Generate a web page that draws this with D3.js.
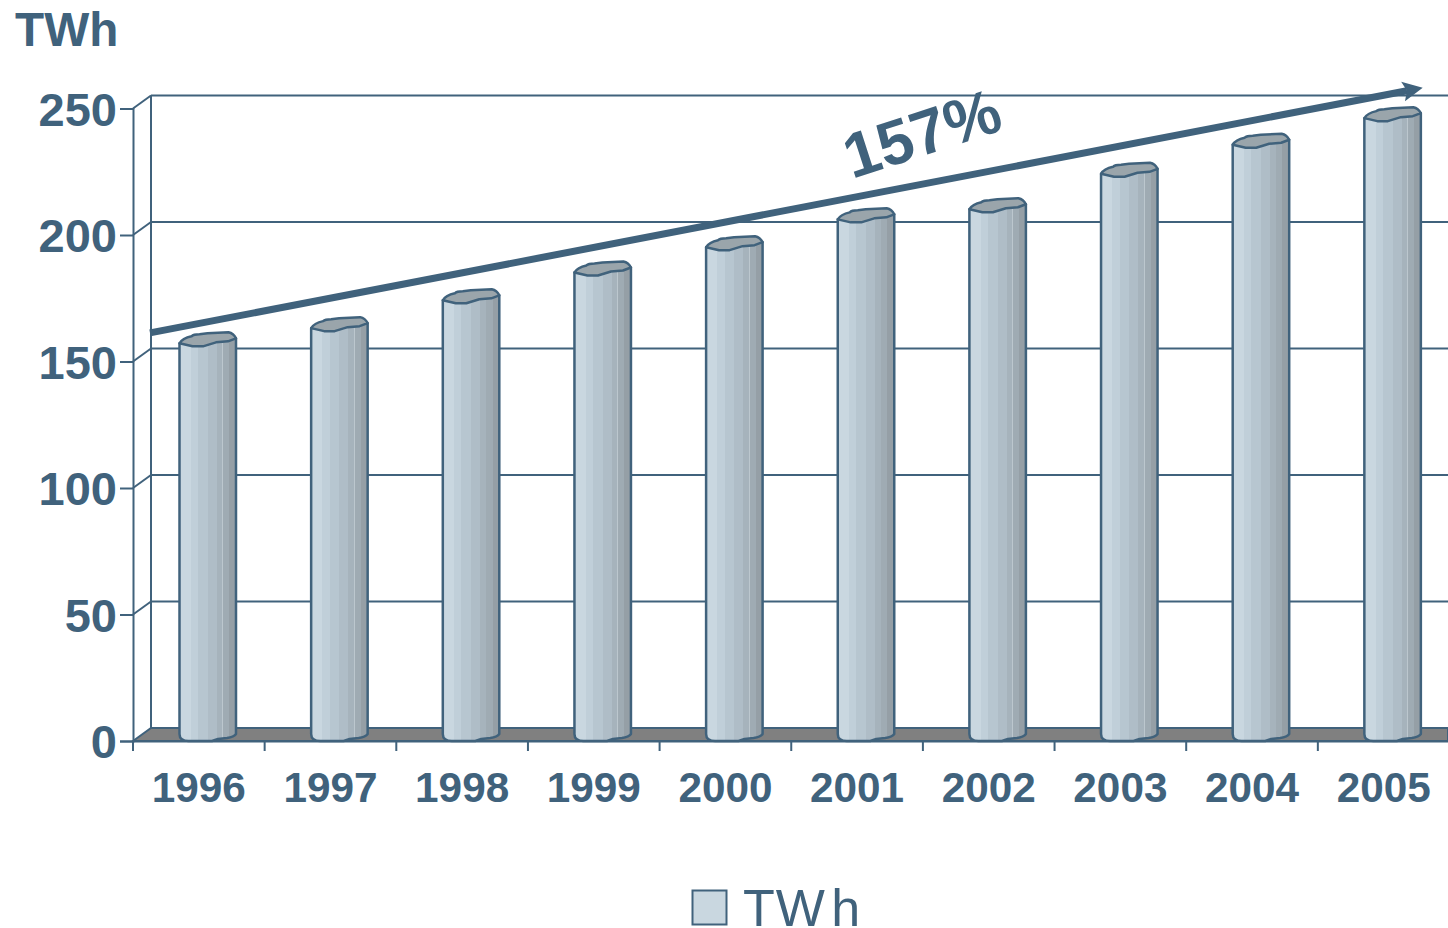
<!DOCTYPE html>
<html><head><meta charset="utf-8">
<script src="https://cdn.jsdelivr.net/npm/d3@7"></script>
<style>
html,body{margin:0;padding:0;background:#fff;overflow:hidden}
svg{display:block}
text{font-family:"Liberation Sans",Arial,sans-serif;fill:#40627c}
</style></head><body>
<svg id="c" width="1448" height="928"></svg>
<script>
const years = ["1996","1997","1998","1999","2000","2001","2002","2003","2004","2005"];
const twh = [156,162,173,184,194,205,209,223,234.5,245];
const yTicks = [0,50,100,150,200,250];
const seriesName = "TWh";
const growthLabel = "157%";
const growthRange = [161.3,257];

const W=1448,H=928, ink="#40627c";
const svg=d3.select("#c");
const x=d3.scaleBand().domain(years).range([133,1448+1.5]).padding(0);
const y=d3.scaleLinear().domain([0,250]).range([741,108.5]);
const dx=18, dy=-13;

const stops=[[0,"#c9d7e0"],[.2,"#c9d7e0"],[.2,"#c0cfd9"],[.33,"#c0cfd9"],[.33,"#b7c6d0"],[.5,"#b7c6d0"],[.5,"#afbdc7"],[.66,"#afbdc7"],[.66,"#a6b3bc"],[.76,"#a6b3bc"],[.76,"#bcc7ce"],[.77,"#bcc7ce"],[.77,"#9fabb3"],[.88,"#9fabb3"],[.88,"#959fa6"],[1,"#959fa6"]];
const g=svg.append("defs").append("linearGradient").attr("id","cyl").attr("x1",0).attr("x2",1).attr("y1",0).attr("y2",0);
g.selectAll("stop").data(stops).join("stop").attr("offset",d=>d[0]).attr("stop-color",d=>d[1]);

svg.append("g").selectAll("line").data(yTicks).join("line")
  .attr("x1",133+dx).attr("x2",W).attr("y1",d=>y(d)+dy).attr("y2",d=>y(d)+dy)
  .attr("stroke",ink).attr("stroke-width",2);
svg.append("line").attr("x1",133+dx).attr("x2",133+dx).attr("y1",y(250)+dy).attr("y2",y(0)+dy).attr("stroke",ink).attr("stroke-width",2);
svg.append("g").selectAll("line").data(yTicks.slice(1)).join("line")
  .attr("x1",133).attr("x2",133+dx).attr("y1",d=>y(d)).attr("y2",d=>y(d)+dy)
  .attr("stroke",ink).attr("stroke-width",2);

svg.append("path").attr("d",`M133,${y(0)}L${133+dx},${y(0)+dy}L${W},${y(0)+dy}L${W},${y(0)}Z`)
  .attr("fill","#808080").attr("stroke",ink).attr("stroke-width",2);

const ya=svg.append("g").attr("transform","translate(133,0)").call(d3.axisLeft(y).tickValues(yTicks).tickSize(13).tickPadding(3));
ya.select(".domain").attr("stroke",ink).attr("stroke-width",2);
ya.selectAll(".tick line").attr("stroke",ink).attr("stroke-width",2);
ya.selectAll(".tick text").attr("font-size",47).attr("font-weight","bold").attr("fill",ink)
  .attr("font-family",'"Liberation Sans",sans-serif').attr("dy","0.36em");

const xa=svg.append("g").attr("transform",`translate(0,${y(0)})`).call(d3.axisBottom(x).tickSize(0).tickPadding(31));
xa.select(".domain").attr("stroke",ink).attr("stroke-width",2);
xa.selectAll(".tick text").attr("font-size",42.3).attr("font-weight","bold").attr("fill",ink)
  .attr("font-family",'"Liberation Sans",sans-serif').attr("dy","0.71em");
svg.append("g").selectAll("line").data(years).join("line")
  .attr("x1",d=>x(d)).attr("x2",d=>x(d)).attr("y1",y(0)).attr("y2",y(0)+10)
  .attr("stroke",ink).attr("stroke-width",2);

const bw=56.5, off=46.5;
const bars=svg.append("g").selectAll("g").data(years.map((k,i)=>({k,v:twh[i]}))).join("g")
  .attr("transform",d=>`translate(${x(d.k)+off},0)`);
const body=d=>{const t=y(d.v),b=y(0);
  return `M0,${t-3}L${bw},${t-8}L${bw},${b-7}Q${bw-2},${b-4} ${bw-9},${b-3}L${bw-18},${b-2}L${bw-24},${b}L9,${b}Q0,${b} 0,${b-7}Z`;};
const cap=d=>{const t=y(d.v);
  return `M0,${t-3}Q3,${t-8} 12,${t-10}Q14,${t-12} 20,${t-12}L28,${t-13}L49,${t-14}Q54,${t-13} ${bw},${t-8}L${bw-8},${t-5}L${bw-20},${t-4}L${bw-33},${t}L13,${t}L0,${t-3}Z`;};
bars.append("path").attr("d",body).attr("fill","url(#cyl)").attr("stroke",ink).attr("stroke-width",2.5).attr("stroke-linejoin","round");
bars.append("path").attr("d",cap).attr("fill","#9aa5ab").attr("stroke",ink).attr("stroke-width",2.5).attr("stroke-linejoin","round");

const ax0=150, ax1=1407;
svg.append("line").attr("x1",ax0).attr("x2",ax1).attr("y1",y(growthRange[0])).attr("y2",y(growthRange[1])).attr("stroke",ink).attr("stroke-width",7);
const ang=Math.atan2(y(growthRange[1])-y(growthRange[0]),ax1-ax0)*180/Math.PI;
svg.append("path").attr("d","M-4,-10L16,0L-4,10L0,0Z").attr("fill",ink)
  .attr("transform",`translate(${ax1},${y(growthRange[1])}) rotate(${ang})`);
svg.append("text").text(growthLabel).attr("transform","translate(852,179) rotate(-18)")
  .attr("font-size",63).attr("font-weight","bold");

svg.append("text").text(seriesName).attr("x",15).attr("y",46).attr("font-size",47.7).attr("font-weight","bold");

svg.append("rect").attr("x",692.5).attr("y",890.5).attr("width",34).attr("height",34).attr("fill","#c9d7e0").attr("stroke",ink).attr("stroke-width",2);
const lg=svg.append("text").attr("x",743).attr("y",926).attr("font-size",52);
lg.append("tspan").text(seriesName.slice(0,2)).attr("letter-spacing",1);
lg.append("tspan").text(seriesName.slice(2)).attr("dx",5.5);
</script>
</body></html>
